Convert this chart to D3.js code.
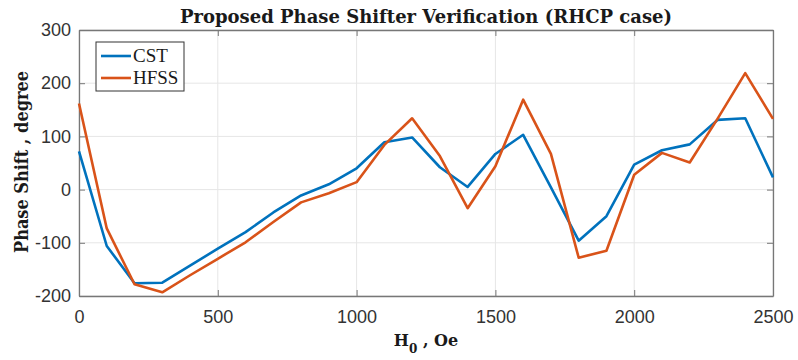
<!DOCTYPE html>
<html>
<head>
<meta charset="utf-8">
<script src="https://cdn.jsdelivr.net/npm/d3@7"></script>
<style>
  body { margin: 0; background: #fff; }
  svg { display: block; }
</style>
</head>
<body>
<svg id="chart"></svg>
<script>
    // H0 sweep, Oe
    var fieldH0 = [0, 100, 200, 300, 400, 500, 600, 700, 800, 900, 1000, 1100, 1200,
        1300, 1400, 1500, 1600, 1700, 1800, 1900, 2000, 2100, 2200, 2300, 2400, 2500];
    // phase shift, degree
    var cstPhase = [72, -106, -176, -175, -143, -111, -80, -43, -11, 10, 40, 89, 98,
        42, 5, 67, 103, 4, -96, -50, 47, 74, 85, 131, 134, 23];
    var hfssPhase = [162, -73, -178, -193, -161, -130, -99, -61, -24, -7, 14, 84, 134,
        63, -35, 44, 169, 67, -128, -115, 28, 69, 51, 133, 219, 133];
    var xTicks = [0, 500, 1000, 1500, 2000, 2500];
    var yTicks = [-200, -100, 0, 100, 200, 300];
    var seriesNames = ['CST', 'HFSS'];
    var seriesColors = ['#0072bd', '#d95319'];

    var width = 798;
    var height = 360;
    var margin = {top: 30, right: 25, bottom: 64, left: 79};

    var svg = d3.select('#chart')
        .attr('width', width)
        .attr('height', height);

    var scaleX = d3.scaleLinear()
        .domain([0, 2500])
        .range([margin.left, width - margin.right]);

    var scaleY = d3.scaleLinear()
        .domain([-200, 300])
        .range([height - margin.bottom, margin.top]);

    var x0 = scaleX.range()[0], x1 = scaleX.range()[1];
    var y0 = scaleY.range()[0], y1 = scaleY.range()[1];

    // grid
    var grid = svg.append('g').attr('stroke', '#e6e6e6').attr('stroke-width', 1);
    grid.selectAll('.gx').data(xTicks).enter().append('line')
        .attr('x1', d => scaleX(d)).attr('x2', d => scaleX(d))
        .attr('y1', y0).attr('y2', y1);
    grid.selectAll('.gy').data(yTicks).enter().append('line')
        .attr('x1', x0).attr('x2', x1)
        .attr('y1', d => scaleY(d)).attr('y2', d => scaleY(d));

    // axes
    var tickFont = '"Liberation Sans", Arial, sans-serif';
    var axisColor = '#777';
    var plain = d => String(d);

    var bottomAxis = svg.append('g')
        .attr('transform', 'translate(0,' + y0 + ')')
        .call(d3.axisBottom(scaleX).tickValues(xTicks).tickFormat(plain)
            .tickSizeInner(-6).tickSizeOuter(0).tickPadding(14));
    var leftAxis = svg.append('g')
        .attr('transform', 'translate(' + x0 + ',0)')
        .call(d3.axisLeft(scaleY).tickValues(yTicks).tickFormat(plain)
            .tickSizeInner(-6).tickSizeOuter(0).tickPadding(8));
    var topAxis = svg.append('g')
        .attr('transform', 'translate(0,' + y1 + ')')
        .call(d3.axisTop(scaleX).tickValues(xTicks).tickSizeInner(-6).tickSizeOuter(0).tickFormat(''));
    var rightAxis = svg.append('g')
        .attr('transform', 'translate(' + x1 + ',0)')
        .call(d3.axisRight(scaleY).tickValues(yTicks).tickSizeInner(-6).tickSizeOuter(0).tickFormat(''));

    [bottomAxis, leftAxis, topAxis, rightAxis].forEach(function(a) {
        a.select('.domain').attr('stroke', axisColor).attr('stroke-width', 1.3);
        a.selectAll('.tick line').attr('stroke', axisColor);
        a.selectAll('.tick text')
            .attr('fill', '#333')
            .style('font-family', tickFont)
            .style('font-size', '18px');
    });

    // lines
    var line = d3.line()
        .x((d, i) => scaleX(fieldH0[i]))
        .y(d => scaleY(d));

    [cstPhase, hfssPhase].forEach(function(values, k) {
        svg.append('path')
            .datum(values)
            .attr('d', line)
            .attr('fill', 'none')
            .attr('stroke', seriesColors[k])
            .attr('stroke-width', 2.6)
            .attr('stroke-linejoin', 'round');
    });

    // titles
    var serif = '"DejaVu Serif", "Liberation Serif", serif';

    svg.append('text')
        .attr('x', (x0 + x1) / 2)
        .attr('y', 23)
        .attr('text-anchor', 'middle')
        .style('font-family', serif)
        .style('font-weight', 'bold')
        .style('font-size', '18px')
        .attr('fill', '#1a1a1a')
        .text('Proposed Phase Shifter Verification (RHCP case)');

    var xlab = svg.append('text')
        .attr('x', (x0 + x1) / 2)
        .attr('y', 346)
        .attr('text-anchor', 'middle')
        .style('font-family', serif)
        .style('font-weight', 'bold')
        .style('font-size', '16px')
        .attr('fill', '#1a1a1a');
    xlab.append('tspan').text('H');
    xlab.append('tspan').attr('dy', 7).style('font-size', '12px').text('0');
    xlab.append('tspan').attr('dy', -7).text(' , Oe');

    svg.append('text')
        .attr('transform', 'translate(28,162) rotate(-90)')
        .attr('text-anchor', 'middle')
        .attr('textLength', 182)
        .attr('lengthAdjust', 'spacingAndGlyphs')
        .style('font-family', serif)
        .style('font-weight', 'bold')
        .style('font-size', '18px')
        .attr('fill', '#1a1a1a')
        .text('Phase Shift , degree');

    // legend
    var legend = svg.append('g').attr('transform', 'translate(96,42)');
    legend.append('rect')
        .attr('width', 88).attr('height', 49)
        .attr('fill', '#fff')
        .attr('stroke', '#333')
        .attr('stroke-width', 1);
    seriesNames.forEach(function(name, k) {
        var yy = 14 + k * 22;
        legend.append('line')
            .attr('x1', 5).attr('x2', 35)
            .attr('y1', yy).attr('y2', yy)
            .attr('stroke', seriesColors[k])
            .attr('stroke-width', 2.6);
        legend.append('text')
            .attr('x', 37).attr('y', yy + 6)
            .style('font-family', '"Liberation Serif", serif')
            .style('font-size', '19px')
            .attr('fill', '#1a1a1a')
            .text(name);
    });
</script>
</body>
</html>
